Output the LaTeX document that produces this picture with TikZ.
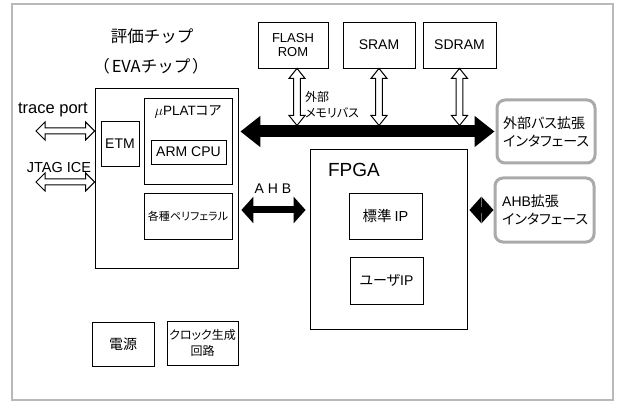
\documentclass[tikz,border=0pt]{standalone}
\usepackage{fontspec}
\setmainfont{Liberation Sans}
\newfontfamily\jp[RawFeature={+palt}]{Noto Sans CJK JP}
\newfontfamily\jpw{Noto Sans CJK JP}
\usetikzlibrary{arrows.meta,calc}
\newcommand\fsz[2]{\fontsize{#1}{#2}\selectfont}
\definecolor{framegray}{RGB}{185,185,185}
\definecolor{ifgray}{RGB}{170,170,170}
% hollow double arrow, vertical: #1 upper tip, #2 lower tip
\newcommand\hollowv[2]{%
  \draw[hollow] let \p1=(#1), \p2=(#2) in
    (\x1,\y1) -- (\x1+8pt,\y1-10pt) -- (\x1+3.3pt,\y1-10pt) -- (\x1+3.3pt,\y2+10pt)
    -- (\x1+8pt,\y2+10pt) -- (\x1,\y2) -- (\x1-8pt,\y2+10pt) -- (\x1-3.3pt,\y2+10pt)
    -- (\x1-3.3pt,\y1-10pt) -- (\x1-8pt,\y1-10pt) -- cycle;}
% hollow double arrow, horizontal: #1 left tip, #2 right tip
\newcommand\hollowh[2]{%
  \draw[hollow] let \p1=(#1), \p2=(#2) in
    (\x1,\y1) -- (\x1+9pt,\y1+9pt) -- (\x1+9pt,\y1+3pt) -- (\x2-9pt,\y1+3pt)
    -- (\x2-9pt,\y1+9pt) -- (\x2,\y1) -- (\x2-9pt,\y1-9pt) -- (\x2-9pt,\y1-3pt)
    -- (\x1+9pt,\y1-3pt) -- (\x1+9pt,\y1-9pt) -- cycle;}
\tikzset{
  box/.style={draw=black, line width=0.8pt, fill=white, inner sep=0pt, align=center},
  ifbox/.style={draw=ifgray, line width=3pt, rounded corners=8pt, fill=white, inner sep=0pt, align=left},
  hollow/.style={draw=black, line width=1pt, line join=miter, fill=white},
  bus/.style={line width=12pt, {Triangle[length=20pt,width=30pt]}-{Triangle[length=20pt,width=30pt]}},
  ahb/.style={line width=7pt, {Triangle[length=12pt,width=26pt]}-{Triangle[length=12pt,width=26pt]}},
  lbl/.style={inner sep=0pt, align=left},
}
\begin{document}
\begin{tikzpicture}[x=1pt, y=-1pt]
\useasboundingbox (0,0) rectangle (619,401);
% outer frame
\draw[framegray, line width=2pt] (12,4) rectangle (613,400);

% evaluation chip
\node[lbl, font=\fsz{16.5}{20}] (title1) at (152,36) {\jpw 評価チップ};
\node[lbl, font=\fsz{16.5}{20}] (title2) at (151,66) {\jpw （\hspace{2pt}EVAチップ\hspace{2pt}）};
\node[box, minimum width=143pt, minimum height=180pt] (eva) at (166.5,178) {};
\node[box, minimum width=38pt, minimum height=45pt, font=\fsz{14}{16}] (etm) at (120,143.5) {ETM};
\node[box, minimum width=88pt, minimum height=86pt] (plat) at (188,141) {};
\node[lbl, font=\fsz{13.5}{16}] (platlbl) at (188,112) {$\mu$PLAT{\jp コア}};
\node[box, minimum width=75pt, minimum height=24pt, font=\fsz{14}{16}] (arm) at (188.5,152) {ARM CPU};
\node[box, minimum width=88pt, minimum height=46pt, font=\fsz{11}{13}] (peri) at (188,216) {\jp 各種ペリフェラル};

% debug ports
\node[lbl, font=\fsz{16.5}{18}] (tracelbl) at (53,110) {trace port};
\node[lbl, font=\fsz{14.5}{18}] (jtaglbl) at (59,168) {JTAG ICE};
\coordinate (traceend) at (36,131);
\coordinate (jtagend) at (36,182);
\hollowh{traceend}{traceend -| eva.west}
\hollowh{jtagend}{jtagend -| eva.west}

% memories
\node[box, minimum width=70pt, minimum height=46pt, font=\fsz{13}{14}] (flash) at (293,45) {FLASH\\ROM};
\node[box, minimum width=72pt, minimum height=46pt, font=\fsz{14}{16}] (sram) at (379,45) {SRAM};
\node[box, minimum width=73pt, minimum height=46pt, font=\fsz{14}{16}] (sdram) at (459.5,45) {SDRAM};

% external bus interface
\node[ifbox, minimum width=98pt, minimum height=63pt] (ext) at (546,131.5) {};
\node[lbl, font=\fsz{14}{18}, anchor=west] (exttxt) at (503,132) {\jp 外部バス拡張\\\jp インタフェース};

% external memory bus
\draw[bus, shorten <=2pt, shorten >=1pt] (eva.east |- ext.west) -- (ext.west);
\coordinate (bustop) at ([yshift=6pt]ext.west);
\node[lbl, font=\fsz{12}{16}, anchor=west] (buslbl) at (305,105) {\jp 外部\\\jp メモリバス};
\hollowv{[xshift=4pt]flash.south}{[xshift=4pt]flash.south |- bustop}
\hollowv{sram.south}{sram.south |- bustop}
\hollowv{sdram.south}{sdram.south |- bustop}

% FPGA
\node[box, minimum width=157pt, minimum height=180pt] (fpga) at (388.5,239) {};
\node[lbl, font=\fsz{19}{22}] (fpgalbl) at (354,170) {FPGA};
\node[box, minimum width=73pt, minimum height=46pt, font=\fsz{14.5}{16}] (std) at (385.5,216) {{\jpw 標準}\hspace{3pt}IP};
\node[box, minimum width=73pt, minimum height=47pt, font=\fsz{14}{16}] (user) at (386.5,280.5) {{\jp ユーザ}IP};

% AHB expansion interface
\node[ifbox, minimum width=99pt, minimum height=64pt] (ahbext) at (544.5,210) {};
\node[lbl, font=\fsz{14}{18}, anchor=west] (ahbtxt) at (502,210) {AHB{\jp 拡張}\\\jp インタフェース};

% AHB connections
\draw[ahb, shorten <=3pt, shorten >=4pt] (eva.east |- ahbext.west) -- (fpga.west |- ahbext.west);
\node[lbl, font=\fsz{14}{16}] (ahblbl) at (273,189) {A H B};
\draw[ahb, line width=6pt, shorten <=2pt] (fpga.east |- ahbext.west) -- (ahbext.west);

% power and clock
\node[box, minimum width=62pt, minimum height=44pt, font=\fsz{14}{16}] (power) at (123,344) {\jp 電源};
\node[box, minimum width=71pt, minimum height=44pt, font=\fsz{12}{16}] (clock) at (202.5,343) {\jp クロック生成\\\jp 回路};
\end{tikzpicture}
\end{document}
